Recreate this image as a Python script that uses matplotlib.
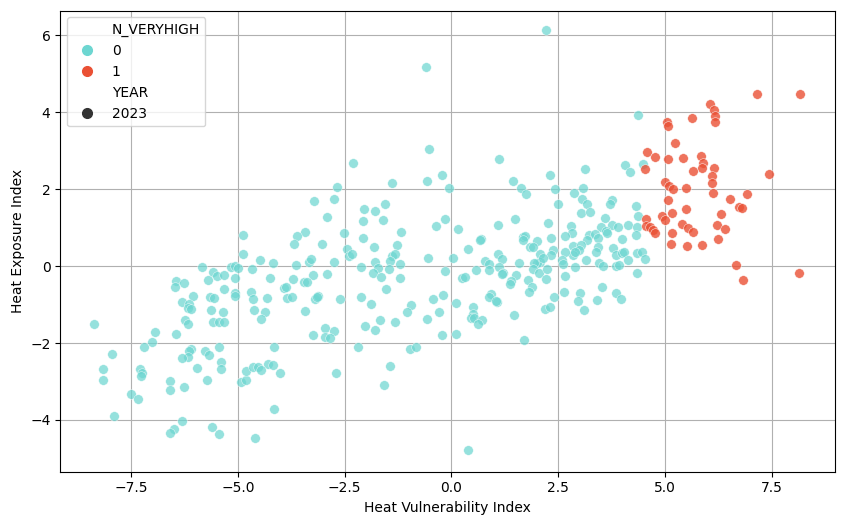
import matplotlib
matplotlib.use("Agg")
import matplotlib.pyplot as plt
from matplotlib.lines import Line2D

# N_VERYHIGH = 0
x0 = [-4.88, -4.88, -5.85, -5.58, -5.48, -5.33, -5.69, -5.17, -5.06, -4.99, -4.66, -4.49, -5.06,
      -6.45, -6.27, -6.47, -6.06, -5.66, -5.56, -5.33, -5.06, -5.06, -4.70, -4.65, -6.32, -6.15,
      -6.16, -6.11, -5.63, -5.34, -4.63,
      -8.36, -6.24, -6.17, -5.58, -5.45, -5.33, -6.95, -6.45, -7.01, -7.20, -7.95, -6.09, -6.14,
      -6.17, -6.31, -5.76, -5.68, -5.45, -5.39, -5.40, -5.95, -5.73, -8.16, -8.15, -7.30, -7.24,
      -7.28, -6.60, -6.60, -6.27, -7.51, -7.35, -7.91, -6.30, -6.50, -6.60, -5.61, -5.45, -4.92,
      -4.82, -4.80, -4.64, -4.53, -4.60,
      -2.31, -0.60, -0.53, -1.40, -0.58, -0.21, -0.05, -2.69, -3.21, -2.75, -2.04, -1.78, -1.55,
      -2.08, -1.60, -2.92, -3.43, -3.62, -3.68, -3.04, -2.52, -2.08, -1.82, -1.18, -1.28, -2.45,
      -2.39, -2.33, -1.39, -1.32, -1.44, -1.80, -1.71, -1.83, -1.66, -1.46, -1.21, -1.21, -1.53,
      -2.12, -4.17, -3.65, -3.33, -3.28, -2.75, -2.92, -3.25, -4.24, -3.71, -3.46, -3.39, -3.92,
      -3.87, -4.33, -3.85, -3.73, -3.20, -3.12, -3.15, -2.61, -2.11, -1.88, -4.37, -3.44, -0.95,
      -1.03, -0.43, -0.19, -0.29, -0.56, -0.36, -0.14, -0.15,
      -4.45, -3.25, -2.97, -2.75, -2.95, -2.85, -4.16, -4.29, -4.17, -4.45, -4.01, -2.71, -4.16,
      -2.03, -1.78, -1.67, -1.32, -0.58, -0.23, -2.18, -0.97, -0.82, -1.44, -1.58,
      2.21, 4.36, 1.11, 3.12, 4.06, 4.18, 2.30, 1.43, 1.63, 1.75, 2.43, 3.09, 2.88, 3.06, 3.18,
      3.76, 3.72, 4.32, 2.49, 3.03, 3.25, 3.60, 4.36, 1.48, 1.08, 2.27, 0.16, 2.79, 2.82, 2.66,
      3.49, 3.75, 3.91, 4.14, 4.34, 3.62, 3.64, 3.23, 3.36, 3.44, 3.18, 4.31, 3.99, 0.70, 0.66,
      1.67, 1.73, 1.68, 2.00, 2.33, 1.84, 1.92, 0.39, 0.04, 2.37, 2.34, 2.07, 2.84, 3.03, 2.99,
      2.84, 2.89, 2.66, 3.44, 3.38, 3.78, 3.85, 3.99, 4.03, 4.34, 4.13, 1.08, 1.19, 2.07, 2.01,
      1.94, 2.15, 1.59, 0.78, 0.89, 2.60, 2.62, 3.16, 3.46, 3.56, 3.85, 3.93, 4.35, 1.12, 1.21,
      1.18, 0.89, 0.57, 1.92, 2.06, 2.23, 1.51, 0.25, 0.32, 2.89, 2.67, 2.21, 1.80, 1.39, 1.37,
      1.88, 1.82, 3.53, 2.63, 3.01, 3.85, 3.98, 3.40, 2.97, 3.10, 0.93, 0.88, 1.06, 1.04, 2.39,
      0.11, 0.51, 0.50, 2.18, 2.31, 1.46, 0.45, 0.53, 0.72, 0.63, 0.11, 1.70, 0.39,
      4.48, 4.45, 4.53]
y0 = [0.81, 0.31, -0.03, -0.16, -0.25, -0.22, -0.36, -0.01, 0.01, -0.04, -0.07, 0.15, -0.31,
      -0.38, -0.44, -0.53, -0.78, -0.80, -0.83, -0.60, -0.69, -0.77, -0.68, -0.85, -0.94, -0.98,
      -1.10, -1.12, -1.14, -1.18, -1.15,
      -1.50, -1.39, -1.51, -1.44, -1.44, -1.44, -1.72, -1.77, -1.98, -2.09, -2.28, -2.15, -2.21,
      -2.35, -2.38, -2.20, -2.31, -2.11, -2.48, -2.68, -2.66, -2.95, -2.67, -2.96, -2.67, -2.79,
      -2.86, -2.99, -3.22, -3.13, -3.32, -3.46, -3.89, -4.03, -4.23, -4.34, -4.19, -4.36, -3.02,
      -2.97, -2.73, -2.61, -2.61, -4.48,
      2.69, 5.18, 3.04, 2.17, 2.22, 2.37, 2.04, 2.05, 1.70, 1.74, 1.49, 1.43, 1.61,
      1.18, 1.21, 1.28, 0.89, 0.79, 0.59, 0.58, 0.86, 0.73, 0.51, 0.89, 0.56, 0.44,
      0.27, 0.31, 0.27, 0.32, 0.14, 0.11, -0.04, -0.17, -0.28, -0.08, 0.05, -0.31, -0.59,
      -0.01, 0.09, 0.04, 0.11, 0.20, 0.10, -0.20, -0.23, -0.32, -0.33, -0.40, -0.42, -0.56,
      -0.53, -0.82, -0.84, -0.80, -0.86, -0.78, -0.81, -0.85, -0.79, -0.98, -1.18, -1.16, -1.01,
      -1.20, -0.86, -0.76, -1.18, 0.21, 1.05, 1.22, -0.12,
      -1.37, -1.78, -1.61, -1.69, -1.83, -1.88, -2.10, -2.54, -2.57, -2.70, -2.78, -2.78, -3.71,
      -1.55, -1.65, -1.41, -1.44, -1.37, -1.78, -2.10, -2.15, -2.10, -2.60, -3.08,
      6.14, 3.94, 2.80, 2.52, 2.63, 2.44, 2.37, 2.22, 2.04, 1.87, 2.01, 2.03, 1.91, 1.76, 1.62,
      1.73, 1.62, 1.57, 1.61, 1.38, 1.40, 1.25, 1.31, 1.22, 1.06, 1.12, 0.97, 1.04, 0.86, 0.78,
      1.02, 1.06, 1.03, 1.07, 1.03, 0.92, 0.86, 0.81, 0.83, 0.74, 0.69, 0.81, 0.70, 0.70, 0.68,
      0.75, 0.79, 0.68, 0.66, 0.73, 0.51, 0.51, 0.45, 0.21, 0.42, 0.29, 0.32, 0.53, 0.54, 0.43,
      0.29, 0.36, 0.38, 0.51, 0.38, 0.47, 0.29, 0.34, 0.36, 0.35, 0.17, 0.31, 0.20, 0.12, 0.08,
      0.09, 0.21, 0.09, 0.14, 0.06, 0.16, 0.05, 0.16, 0.09, 0.01, 0.01, 0.03, -0.18, -0.02, -0.17,
      -0.19, -0.11, -0.10, -0.07, -0.18, -0.07, -0.22, -0.31, -0.28, -0.01, -0.25, -0.33, -0.36, -0.38, -0.47,
      -0.54, -0.66, -0.55, -0.67, -0.70, -0.70, -0.86, -0.87, -0.90, -1.14, -0.72, -0.79, -0.92, -0.90, -0.81,
      -0.95, -1.06, -1.24, -1.11, -1.06, -1.28, -1.36, -1.34, -1.41, -1.50, -1.77, -1.93, -4.79,
      2.66, 0.38, 0.18]

# N_VERYHIGH = 1
x1 = [7.16, 8.15, 6.05, 6.14, 6.17, 6.17, 5.63, 5.04, 5.06, 5.24, 4.58, 4.76, 5.06, 5.43, 5.84,
      5.88, 5.86, 5.66, 6.14, 6.10, 6.11, 4.54, 7.44, 5.00, 5.09, 5.18, 5.49, 6.13, 6.92, 6.53,
      5.08, 5.49, 6.74, 6.80, 6.30, 4.92, 5.17, 5.01, 4.56, 4.56, 4.65, 4.73, 4.77, 5.40, 5.55,
      5.66, 6.21, 6.41, 5.16, 5.15, 5.52, 5.87, 6.25, 6.66, 6.82, 8.13]
y1 = [4.49, 4.47, 4.21, 4.06, 3.91, 3.75, 3.85, 3.74, 3.65, 3.21, 2.98, 2.84, 2.78, 2.82, 2.87,
      2.68, 2.55, 2.48, 2.56, 2.35, 2.17, 2.52, 2.40, 2.18, 2.09, 2.02, 2.04, 1.90, 1.89, 1.74,
      1.72, 1.49, 1.53, 1.51, 1.37, 1.31, 1.38, 1.20, 1.22, 1.05, 1.01, 0.94, 0.86, 1.09, 0.99,
      0.90, 1.06, 0.96, 0.86, 0.59, 0.53, 0.55, 0.71, 0.04, -0.35, -0.18]

hue_levels = ["0", "1"]
year_levels = ["2023"]
colors = ["#6dd6d1", "#ea5034"]

fig = plt.figure(figsize=(8.44, 5.25), dpi=100)
ax = fig.add_axes([0.0714, 0.1015, 0.9179, 0.8785])
ax.set_axisbelow(True)
ax.grid(True, color="#b0b0b0", linewidth=0.8)

ax.scatter(x0, y0, s=48, color=colors[0], alpha=0.72, edgecolors="white", linewidths=0.4, zorder=2)
ax.scatter(x1, y1, s=48, color=colors[1], alpha=0.8, edgecolors="white", linewidths=0.4, zorder=3)

ax.set_xlim(-9.16, 8.98)
ax.set_ylim(-5.345, 6.65)
ax.set_xticks([-7.5, -5.0, -2.5, 0.0, 2.5, 5.0, 7.5])
ax.set_yticks([-4, -2, 0, 2, 4, 6])
ax.set_xlabel("Heat Vulnerability Index")
ax.set_ylabel("Heat Exposure Index")

blank = Line2D([], [], linestyle="", marker="")
handles = [blank,
           Line2D([], [], linestyle="", marker="o", markersize=7, color=colors[0]),
           Line2D([], [], linestyle="", marker="o", markersize=7, color=colors[1]),
           blank,
           Line2D([], [], linestyle="", marker="o", markersize=7, color="#333333")]
labels = ["N_VERYHIGH", hue_levels[0], hue_levels[1], "YEAR", year_levels[0]]
ax.legend(handles, labels, loc="upper left")

fig.savefig("out.png", dpi=100)
